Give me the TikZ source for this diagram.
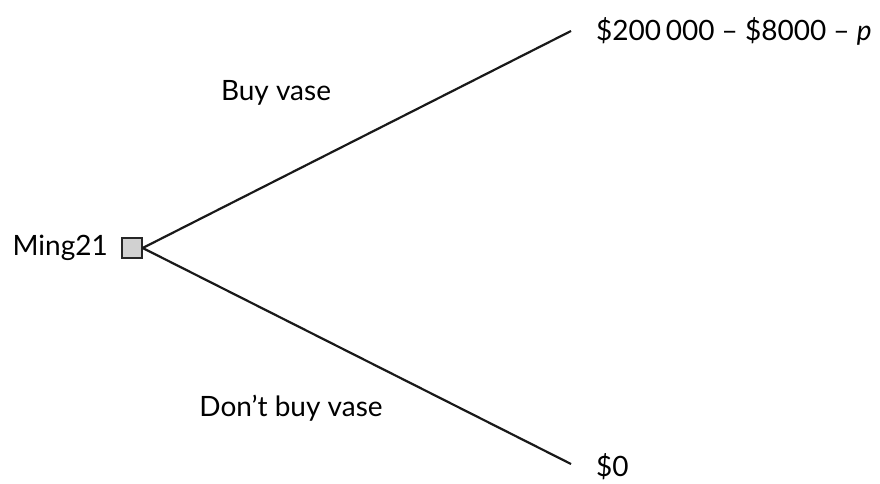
\documentclass[tikz,border=0pt]{standalone}
\usepackage{fontspec}
\setmainfont{Lato}
\begin{document}
\begin{tikzpicture}[x=1pt,y=-1pt,
  lbl/.style={font=\fontsize{28}{32}\selectfont, inner sep=0pt},
  edge/.style={line width=2.2pt, draw=black!90}]
\useasboundingbox (0,0) rectangle (880,484);
\node[draw=black!85, line width=1.4pt, fill=black!18, minimum size=20pt, inner sep=0pt] (d) at (132,248) {};
\node[lbl, anchor=east] (ming) at (108,248) {Ming21};
\coordinate (t) at (571,31);
\coordinate (b) at (571,464);
\draw[edge] (d.east) -- (t);
\draw[edge] (d.east) -- (b);
\node[lbl, anchor=west] (top) at (596,31) {\$200\,000 -- \$8000 -- \textit{p}};
\node[lbl, anchor=west] (bot) at (596,467) {\$0};
\node[lbl] (buy) at (276,93) {Buy vase};
\node[lbl] (dont) at (291,408) {Don’t buy vase};
\end{tikzpicture}
\end{document}
